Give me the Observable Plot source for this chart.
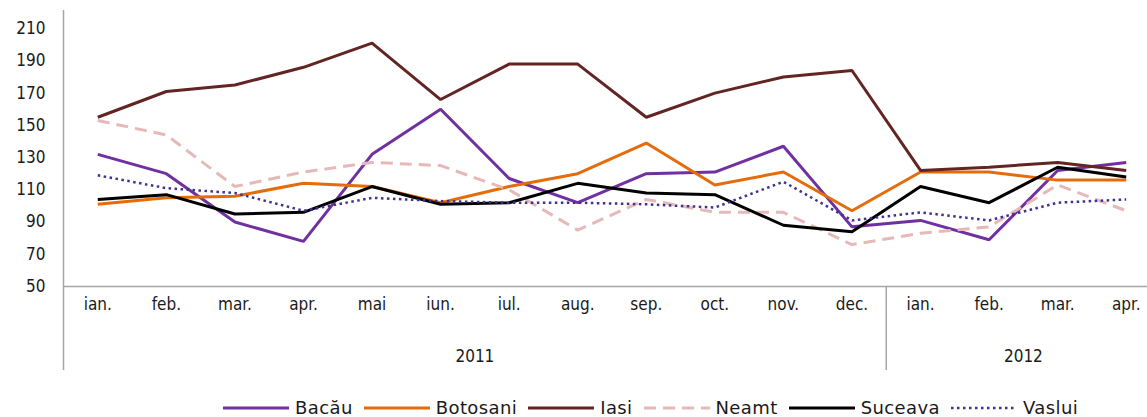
<!DOCTYPE html>
<html>
<head>
<meta charset="utf-8">
<script src="https://cdn.jsdelivr.net/npm/d3@7"></script>
<script src="https://cdn.jsdelivr.net/npm/@observablehq/plot@0.6"></script>
<style>
  html, body { margin: 0; padding: 0; background: #fff; }
  #wrap { position: relative; width: 1147px; height: 417px; overflow: hidden; font-family: "DejaVu Sans Condensed", "DejaVu Sans", sans-serif; color: #1a1a1a; }
  #legend { position: absolute; left: 223px; top: 397px; display: flex; align-items: center; font-family: "DejaVu Sans", sans-serif; font-size: 18px; letter-spacing: 0.4px; white-space: nowrap; }
  .item { display: flex; align-items: center; margin-right: 11px; }
  .item svg { margin-right: 6px; }
</style>
</head>
<body>
<div id="wrap"><div id="chart"></div><div id="legend"></div></div>
<script>
const months = ["ian.","feb.","mar.","apr.","mai","iun.","iul.","aug.","sep.","oct.","nov.","dec.","ian.","feb.","mar.","apr."];
const years = ["2011", "2012"];
const yearCounts = [12, 4];
const yTicks = [50, 70, 90, 110, 130, 150, 170, 190, 210];

const seriesNames = ["Bacău", "Botosani", "Iasi", "Neamt", "Suceava", "Vaslui"];
const bacau    = [132,120, 90, 78,132,160,117,102,120,121,137, 87, 91, 79,122,127];
const botosani = [101,105,106,114,112,102,112,120,139,113,121, 97,121,121,116,116];
const iasi     = [155,171,175,186,201,166,188,188,155,170,180,184,122,124,127,122];
const neamt    = [153,144,112,121,127,125,110, 85,104, 96, 96, 76, 83, 87,113, 97];
const suceava  = [104,107, 95, 96,112,101,102,114,108,107, 88, 84,112,102,124,118];
const vaslui   = [119,111,108, 97,105,103,102,102,101, 99,115, 91, 96, 91,102,104];

const seriesValues = [bacau, botosani, iasi, neamt, suceava, vaslui];
const styles = {
  "Bacău":    {stroke: "#7030a0", dash: null, w: 3},
  "Botosani": {stroke: "#e46c0a", dash: null, w: 3},
  "Iasi":     {stroke: "#632523", dash: null, w: 3},
  "Neamt":    {stroke: "#e6b9b8", dash: "12 7", w: 3},
  "Suceava":  {stroke: "#000000", dash: null, w: 3},
  "Vaslui":   {stroke: "#3f3193", dash: "2.5 3.5", w: 2.5}
};

const rows = seriesNames.flatMap((name, s) => seriesValues[s].map((v, i) => ({name, i, v})));

const yearStart = yearCounts.map((c, k) => d3.sum(yearCounts.slice(0, k)));
const yearRows = years.map((y, k) => ({y, center: yearStart[k] + (yearCounts[k] - 1) / 2}));
const separators = yearStart.slice(1).map(s => s - 0.5);

const font = "DejaVu Sans Condensed, DejaVu Sans, sans-serif";

const lineMarks = seriesNames.map(name => Plot.line(rows.filter(r => r.name === name), {
  x: "i", y: "v",
  stroke: styles[name].stroke,
  strokeWidth: styles[name].w,
  strokeDasharray: styles[name].dash,
  strokeLinejoin: "miter",
  strokeLinecap: "butt"
}));

const plot = Plot.plot({
  width: 1147,
  height: 385,
  marginLeft: 63,
  marginTop: 12,
  marginBottom: 99,
  marginRight: 0,
  style: {fontFamily: font, fontSize: "17px", color: "#1a1a1a", background: "#fff", overflow: "visible"},
  x: {type: "linear", domain: [-0.5, months.length - 0.5], range: [63, 1160], axis: null},
  y: {domain: [50, 220], ticks: yTicks, axis: null},
  marks: [
    Plot.axisY(yTicks, {tickSize: 0, tickPadding: 18, fontSize: 17, fill: "#1a1a1a", label: null}),
    Plot.ruleY([50], {stroke: "#a6a6a6", strokeWidth: 1.5}),
    Plot.ruleX([-0.5], {stroke: "#a6a6a6", strokeWidth: 1.5, insetTop: -2, insetBottom: -84}),
    Plot.ruleX(separators, {y1: 50, y2: 50, stroke: "#a6a6a6", strokeWidth: 1.5, insetBottom: -84}),
    Plot.text(months, {x: (d, i) => i, text: d => d, frameAnchor: "bottom", dy: 23, fontSize: 17, fill: "#1a1a1a"}),
    Plot.text(yearRows, {x: "center", text: "y", frameAnchor: "bottom", dy: 75, fontSize: 17, fill: "#1a1a1a"}),
    ...lineMarks
  ]
});
document.getElementById("chart").appendChild(plot);

const legend = document.getElementById("legend");
seriesNames.forEach(name => {
  const st = styles[name];
  const item = document.createElement("div");
  item.className = "item";
  item.innerHTML = `<svg width="66" height="8"><line x1="0" y1="4" x2="66" y2="4" stroke="${st.stroke}" stroke-width="${st.w}" ${st.dash ? `stroke-dasharray="${st.dash}"` : ""}/></svg><span>${name}</span>`;
  legend.appendChild(item);
});
</script>
</body>
</html>
